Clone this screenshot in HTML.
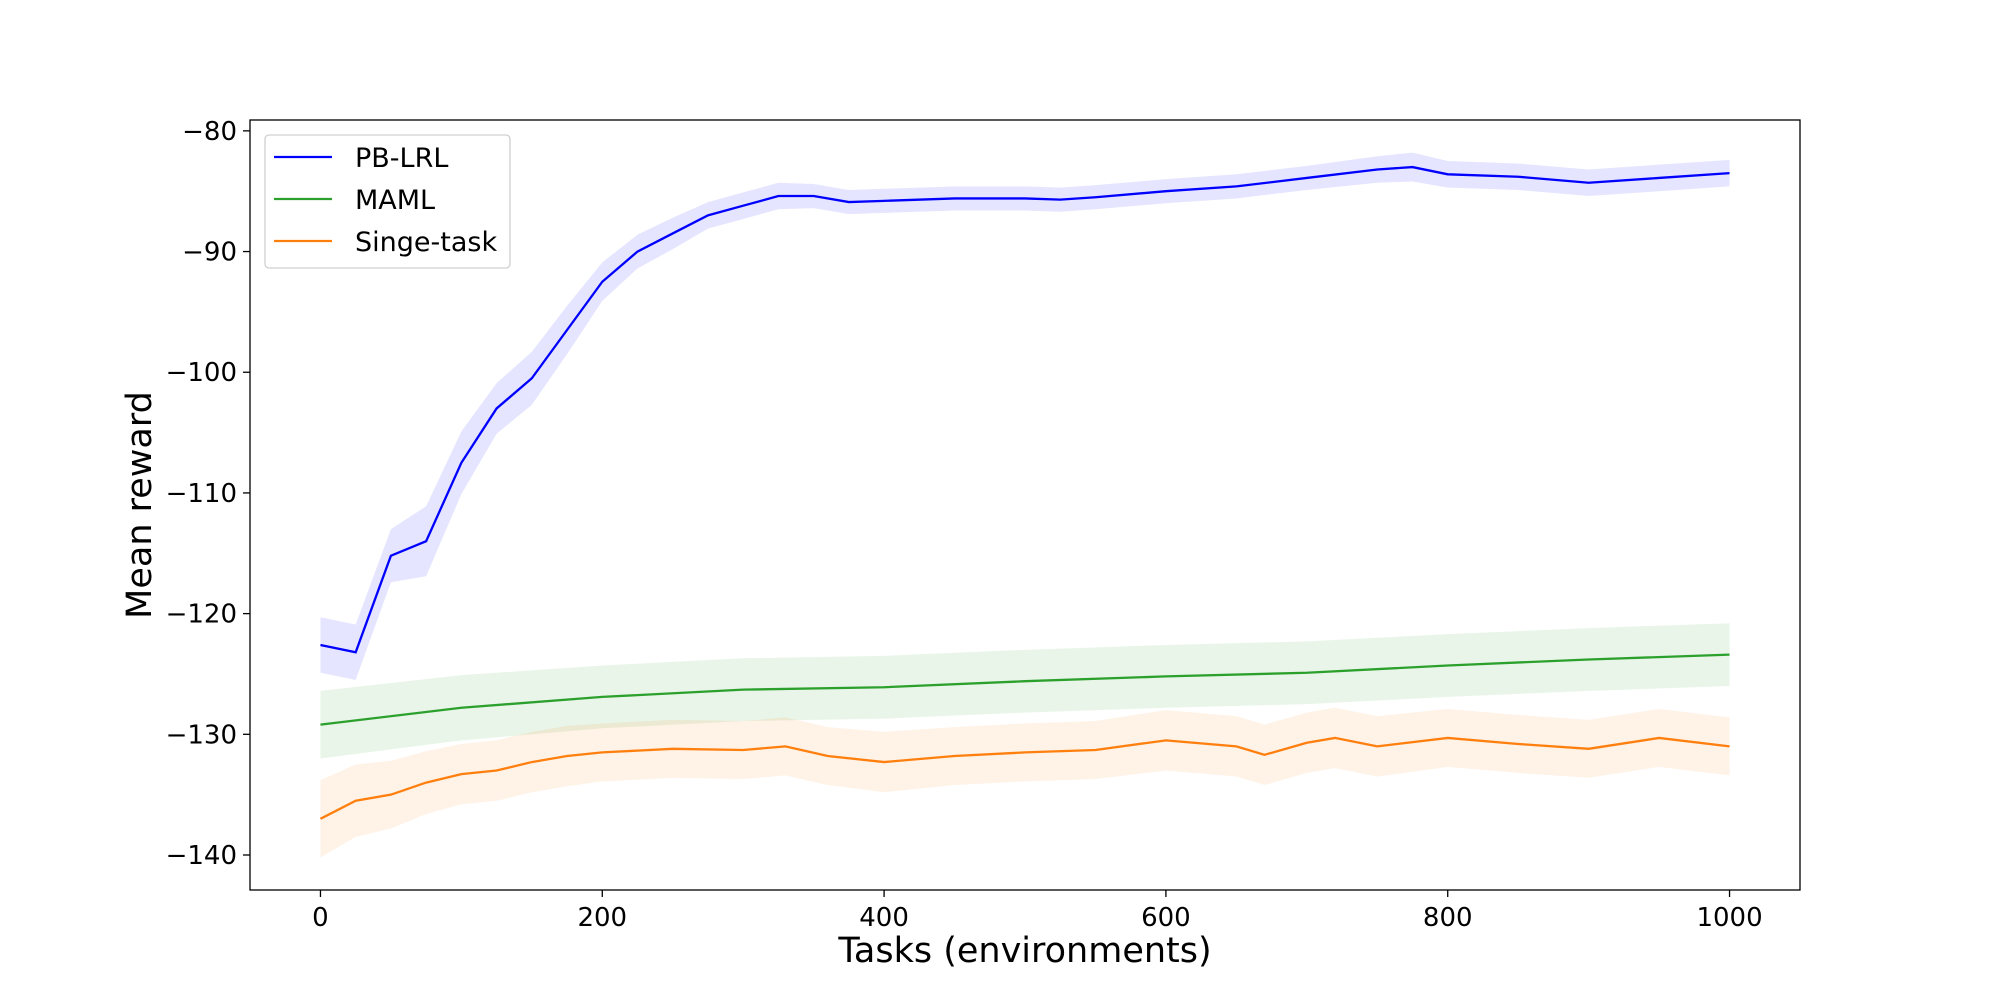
<!DOCTYPE html>
<html><head><meta charset="utf-8"><style>
html,body{margin:0;padding:0;background:#fff;width:2000px;height:1000px;overflow:hidden}
svg text{font-family:"DejaVu Sans","Liberation Sans",sans-serif;fill:#000}
</style></head><body>
<svg id="chart" width="2000" height="1000" xmlns="http://www.w3.org/2000/svg"></svg>
<script>
const xTicks=[0,200,400,600,800,1000];
const yTicks=[-140,-130,-120,-110,-100,-90,-80];
const pbX=[0,25,50,75,100,125,150,175,200,225,250,275,300,325,350,375,400,450,500,525,550,600,650,700,750,775,800,850,900,950,1000];
const pbY=[-122.6,-123.2,-115.2,-114,-107.5,-103,-100.5,-96.5,-92.5,-90,-88.5,-87,-86.2,-85.4,-85.4,-85.9,-85.8,-85.6,-85.6,-85.7,-85.5,-85,-84.6,-83.9,-83.2,-83,-83.6,-83.8,-84.3,-83.9,-83.5];
const pbErr=[2.3,2.3,2.2,2.9,2.6,2.1,2.2,2,1.6,1.4,1.3,1.1,1.1,1.1,1,1,1,1,1,1,1,1,1,1,1.1,1.2,1.1,1.1,1.1,1.1,1.1];
const mamlX=[0,100,200,300,400,500,600,700,800,900,1000];
const mamlY=[-129.2,-127.8,-126.9,-126.3,-126.1,-125.6,-125.2,-124.9,-124.3,-123.8,-123.4];
const mamlErr=[2.8,2.7,2.6,2.6,2.6,2.6,2.6,2.6,2.6,2.6,2.6];
const stX=[0,25,50,75,100,125,150,175,200,250,300,330,360,400,450,500,550,600,650,670,700,720,750,800,850,900,950,1000];
const stY=[-137,-135.5,-135,-134,-133.3,-133,-132.3,-131.8,-131.5,-131.2,-131.3,-131,-131.8,-132.3,-131.8,-131.5,-131.3,-130.5,-131,-131.7,-130.7,-130.3,-131,-130.3,-130.8,-131.2,-130.3,-131];
const stErr=[3.2,3,2.8,2.6,2.5,2.5,2.5,2.5,2.4,2.4,2.4,2.4,2.4,2.5,2.4,2.4,2.4,2.5,2.5,2.5,2.5,2.5,2.5,2.4,2.4,2.4,2.4,2.4];

const L=250,R=1800,T=120,B=890,X0=-50,X1=1050,Y0=-142.9,Y1=-79.1;
const sx=v=>L+(v-X0)/(X1-X0)*(R-L);
const sy=v=>B-(v-Y0)/(Y1-Y0)*(B-T);
const svg=document.getElementById('chart');
const NS='http://www.w3.org/2000/svg';
function mk(tag,at,txt){const e=document.createElementNS(NS,tag);for(const k in at)e.setAttribute(k,at[k]);if(txt!==undefined)e.textContent=txt;svg.appendChild(e);return e;}

function series(xs,ys,es,col,name){
  let up=xs.map((x,i)=>sx(x)+','+sy(ys[i]+es[i]));
  let dn=xs.map((x,i)=>sx(x)+','+sy(ys[i]-es[i])).reverse();
  const b=mk('polygon',{points:up.concat(dn).join(' '),fill:col,'fill-opacity':0.1,stroke:'none'});
  
  
  const l=mk('polyline',{points:xs.map((x,i)=>sx(x)+','+sy(ys[i])).join(' '),fill:'none',stroke:col,'stroke-width':2.3});
  
  
}
series(pbX,pbY,pbErr,'#0000ff','pb-lrl');
series(mamlX,mamlY,mamlErr,'#2ca02c','maml');
series(stX,stY,stErr,'#ff7f0e','single-task');

const fr=mk('rect',{x:L,y:T,width:R-L,height:B-T,fill:'none',stroke:'#000','stroke-width':1.3});


xTicks.forEach(v=>{
  mk('line',{x1:sx(v),x2:sx(v),y1:B,y2:B+7,stroke:'#000','stroke-width':1.3});
  const t=mk('text',{x:sx(v),y:B+36,'font-size':26,'text-anchor':'middle'},String(v));
  
  
});
yTicks.forEach(v=>{
  mk('line',{x1:L-7,x2:L,y1:sy(v),y2:sy(v),stroke:'#000','stroke-width':1.3});
  const t=mk('text',{x:L-13,y:sy(v)+9,'font-size':26,'text-anchor':'end'},'\u2212'+Math.abs(v));
  
  
});
const xt=mk('text',{x:(L+R)/2,y:962,'font-size':35,'text-anchor':'middle'},'Tasks (environments)');


const yt=mk('text',{x:0,y:0,'font-size':35,'text-anchor':'middle',transform:'translate(151,505) rotate(-90)'},'Mean reward');



const lg=mk('rect',{x:265,y:135,width:245,height:133,rx:4,fill:'#fff','fill-opacity':0.8,stroke:'#d0d0d0','stroke-width':1.3});


[['PB-LRL','#0000ff',157],['MAML','#2ca02c',199],['Singe-task','#ff7f0e',241]].forEach(([n,c,y])=>{
  mk('line',{x1:274,x2:332,y1:y,y2:y,stroke:c,'stroke-width':2.3});
  const t=mk('text',{x:355,y:y+10,'font-size':27},n);
  
  
});
</script>
</body></html>
